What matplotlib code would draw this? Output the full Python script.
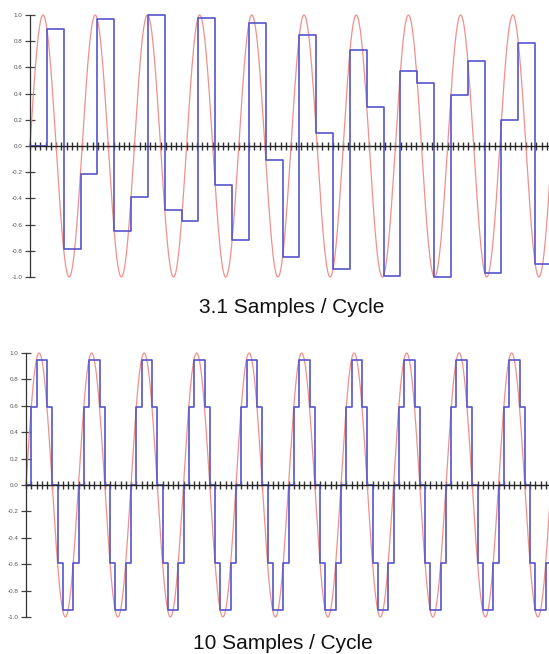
import numpy as np
import matplotlib
matplotlib.use('Agg')
import matplotlib.pyplot as plt
from matplotlib.ticker import MultipleLocator, FixedLocator

plt.rcParams['font.family'] = ['Liberation Sans', 'DejaVu Sans']

# values
titles = ['3.1 Samples / Cycle', '10 Samples / Cycle']
samples_per_cycle = [3.1, 10]
signal_cycles = 10          # red analog signal spans 10 cycles

# held sample values, top panel (3.1 samples / cycle)
held_top = [0.0, 0.89, -0.79, -0.21, 0.97, -0.65, -0.39, 1.0, -0.49, -0.57,
            0.98, -0.30, -0.72, 0.94, -0.11, -0.85, 0.85, 0.10, -0.94, 0.73,
            0.30, -0.99, 0.57, 0.48, -1.0, 0.39, 0.65, -0.97, 0.20, 0.79, -0.90]
# one cycle of held values, bottom panel (10 samples / cycle), repeats every cycle
held_bottom_cycle = [0.0, 0.59, 0.95, 0.95, 0.59, 0.0, -0.59, -0.95, -0.95, -0.59]
held_bottom = np.tile(held_bottom_cycle, signal_cycles)

ytick_vals = [-1.0, -0.8, -0.6, -0.4, -0.2, 0.0, 0.2, 0.4, 0.6, 0.8, 1.0]
ytick_labels = ['%.1f' % v for v in ytick_vals]

red = '#f0908c'
blue = '#5555cc'

W, H = 549, 654
fig = plt.figure(figsize=(W / 100, H / 100), dpi=100)

# axes boxes in pixels: left, top(1.0), bottom(-1.0)
boxes = [(30, 15, 277), (26, 353, 617)]
periods_px = [52.2, 52.5]
title_pos = [(292, 313), (283, 649)]

for i in range(2):
    left, top, bot = boxes[i]
    ax = fig.add_axes([left / W, 1 - bot / H, (W - left) / W, (bot - top) / H])
    x_end = (W - left) / periods_px[i]

    t = np.linspace(0, signal_cycles, 3000)
    ax.plot(t, np.sin(2 * np.pi * t), color=red, lw=0.9, clip_on=False, zorder=2)

    held = list(held_top if i == 0 else held_bottom)
    ts = [k / samples_per_cycle[i] for k in range(len(held))]
    ts.append(signal_cycles)
    held.append(held[-1])
    ax.step(ts, held, where='post', color=blue, lw=1.2, clip_on=False, zorder=3)

    ax.set_xlim(0, x_end)
    ax.set_ylim(-1, 1)
    for s in ['top', 'right']:
        ax.spines[s].set_visible(False)
    ax.spines['bottom'].set_position(('data', 0))
    ax.spines['bottom'].set_color('#222222')
    ax.spines['left'].set_color('#333333')
    ax.spines['bottom'].set_linewidth(1.0)
    ax.spines['left'].set_linewidth(0.9)
    ax.spines['bottom'].set_zorder(4)

    ax.xaxis.set_major_locator(MultipleLocator(0.1))
    ax.tick_params(axis='x', direction='inout', length=6, width=1.0,
                   color='#333333', labelbottom=False)
    ax.yaxis.set_major_locator(FixedLocator(ytick_vals))
    ax.set_yticklabels(ytick_labels)
    ax.tick_params(axis='y', direction='inout', length=7, width=0.9,
                   color='#444444', labelsize=4.5, labelcolor='#555555', pad=2)
    ax.patch.set_visible(False)

    fig.text(title_pos[i][0] / W, 1 - title_pos[i][1] / H, titles[i],
             ha='center', va='baseline', fontsize=15, color='#111111')

fig.savefig('out.png', dpi=100)
